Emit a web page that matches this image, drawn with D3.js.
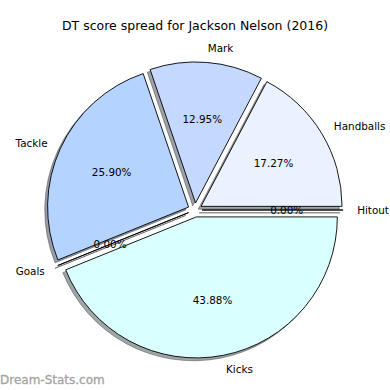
<!DOCTYPE html>
<html><head><meta charset="utf-8">
<script src="https://cdn.jsdelivr.net/npm/d3@7"></script>
<style>body{margin:0;background:#fff}svg{display:block}</style>
</head><body>
<script>
const categories = ["Handballs", "Mark", "Tackle", "Goals", "Kicks", "Hitout"];
const values = [17.27, 12.95, 25.90, 0.00, 43.88, 0.00];
const colors = ["#eaf1ff", "#c5d8ff", "#b4d4ff", "#b4d4ff", "#d9ffff", "#eaf1ff"];
const title = "DT score spread for Jackson Nelson (2016)";
const watermark = "Dream-Stats.com";

const W = 390, H = 390, cx = 195, cy = 210, r = 141;
const explode = 0.05 * r, shadowOff = 0.02 * r;
const font = "'DejaVu Sans', sans-serif";

const svg = d3.select("body").append("svg").attr("width", W).attr("height", H);
svg.append("rect").attr("width", W).attr("height", H).attr("fill", "#fff");

svg.append("text").attr("x", cx).attr("y", 25).attr("text-anchor", "middle")
  .attr("dominant-baseline", "central").attr("font-family", font).attr("font-size", 12.5)
  .attr("fill", "#000").text(title);

const total = d3.sum(values);
const pie = d3.pie().sort(null).startAngle(Math.PI / 2).endAngle(Math.PI / 2 - 2 * Math.PI);
const arcs = pie(values);
const arc = d3.arc().innerRadius(0).outerRadius(r);

const g = svg.append("g").attr("transform", `translate(${cx},${cy})`);

function darken(c) { const o = d3.rgb(c); return d3.rgb(o.r * 0.3, o.g * 0.3, o.b * 0.3).toString(); }

arcs.forEach((a, i) => {
  const mid = (a.startAngle + a.endAngle) / 2;
  const dx = explode * Math.sin(mid), dy = -explode * Math.cos(mid);
  const pathD = arc({startAngle: Math.min(a.startAngle, a.endAngle), endAngle: Math.max(a.startAngle, a.endAngle)});
  g.append("path").attr("d", pathD)
    .attr("transform", `translate(${dx - shadowOff},${dy + shadowOff})`)
    .attr("fill", darken(colors[i])).attr("fill-opacity", 0.5)
    .attr("stroke", darken(colors[i])).attr("stroke-opacity", 0.5).attr("stroke-width", 1);
  g.append("path").attr("d", pathD)
    .attr("transform", `translate(${dx},${dy})`)
    .attr("fill", colors[i]).attr("stroke", "#000").attr("stroke-width", 0.9)
    .attr("stroke-linejoin", "round");
});

arcs.forEach((a, i) => {
  const mid = (a.startAngle + a.endAngle) / 2;
  const dx = explode * Math.sin(mid), dy = -explode * Math.cos(mid);
  const sx = Math.sin(mid), sy = -Math.cos(mid);
  g.append("text").attr("x", dx + 0.6 * r * sx).attr("y", dy + 0.6 * r * sy)
    .attr("text-anchor", "middle").attr("dominant-baseline", "central")
    .attr("font-family", font).attr("font-size", 10.4).attr("fill", "#000")
    .text((values[i] / total * 100).toFixed(2) + "%");
  const lx = dx + 1.1 * r * sx, ly = dy + 1.1 * r * sy;
  g.append("text").attr("x", lx).attr("y", ly)
    .attr("text-anchor", lx > 0 ? "start" : "end").attr("dominant-baseline", "central")
    .attr("font-family", font).attr("font-size", 10.4).attr("fill", "#000")
    .text(categories[i]);
});

svg.append("text").attr("x", 0).attr("y", 380).attr("dominant-baseline", "central")
  .attr("font-family", font).attr("font-size", 12).attr("font-weight", "normal")
  .attr("stroke", "#a8a8a8").attr("stroke-width", 0.3)
  .attr("fill", "#a0a0a0").text(watermark);
</script>
</body></html>
